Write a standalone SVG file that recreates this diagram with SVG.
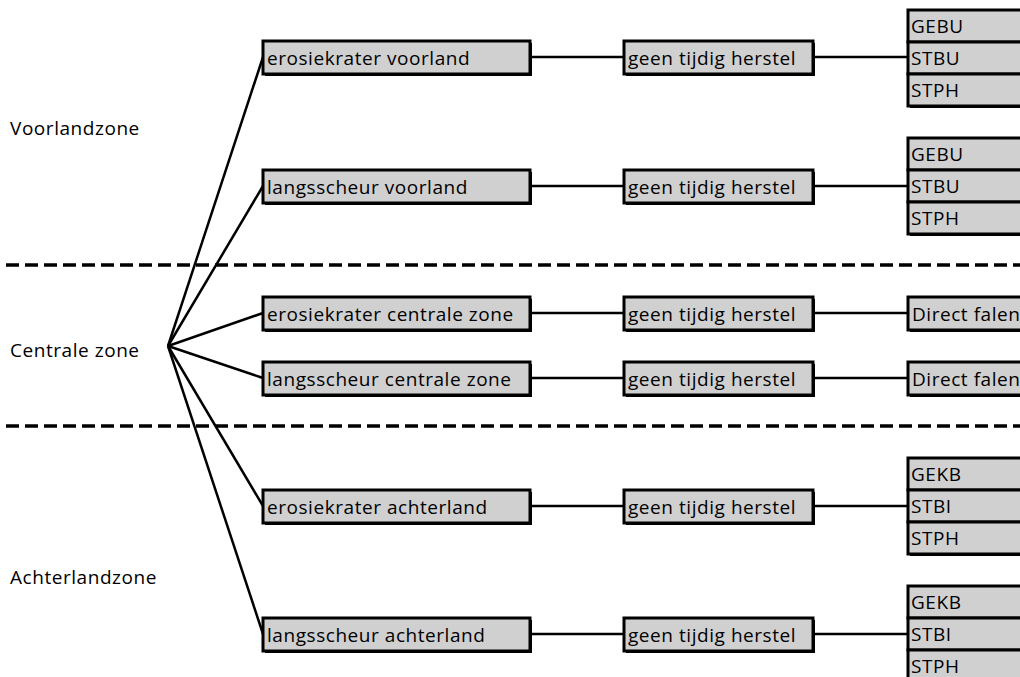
<svg xmlns="http://www.w3.org/2000/svg" width="1020" height="677" viewBox="0 0 1020 677">
<style>
.bx{fill:#d0d0d0;stroke:#000;stroke-width:3}
.sh{fill:#000}
.t{font-family:"Open Sans","Noto Sans",sans-serif;font-size:19px;letter-spacing:0.55px;fill:#000}
.z{font-family:"Open Sans","Noto Sans",sans-serif;font-size:19px;letter-spacing:0.55px;fill:#000}
.ln{stroke:#000;stroke-width:2.5;fill:none}
.ds{stroke:#000;stroke-width:3.5;stroke-dasharray:13 6;fill:none}
</style>
<rect width="1020" height="677" fill="#fff"/>
<g id="zones">
<text class="z" x="10" y="135">Voorlandzone</text>
<text class="z" x="10" y="357">Centrale zone</text>
<text class="z" x="10" y="584">Achterlandzone</text>
</g>
<g id="separators">
<line class="ds" x1="6" y1="265" x2="1020" y2="265"/>
<line class="ds" x1="6" y1="426" x2="1020" y2="426"/>
</g>
<g id="connectors">
<line class="ln" x1="168" y1="346" x2="263" y2="57"/>
<line class="ln" x1="168" y1="346" x2="263" y2="186"/>
<line class="ln" x1="168" y1="346" x2="263" y2="313"/>
<line class="ln" x1="168" y1="346" x2="263" y2="378"/>
<line class="ln" x1="168" y1="346" x2="263" y2="506"/>
<line class="ln" x1="168" y1="346" x2="263" y2="634"/>
<line class="ln" x1="530" y1="57" x2="624" y2="57"/>
<line class="ln" x1="813" y1="57" x2="908" y2="57"/>
<line class="ln" x1="530" y1="186" x2="624" y2="186"/>
<line class="ln" x1="813" y1="186" x2="908" y2="186"/>
<line class="ln" x1="530" y1="313" x2="624" y2="313"/>
<line class="ln" x1="813" y1="313" x2="908" y2="313"/>
<line class="ln" x1="530" y1="378" x2="624" y2="378"/>
<line class="ln" x1="813" y1="378" x2="908" y2="378"/>
<line class="ln" x1="530" y1="506" x2="624" y2="506"/>
<line class="ln" x1="813" y1="506" x2="908" y2="506"/>
<line class="ln" x1="530" y1="634" x2="624" y2="634"/>
<line class="ln" x1="813" y1="634" x2="908" y2="634"/>
</g>
<g id="n1"><rect class="sh" x="265" y="43" width="267" height="33"/><rect class="bx" x="263" y="41" width="267" height="33"/><text class="t" x="267" y="65">erosiekrater voorland</text></g>
<g id="n2"><rect class="sh" x="265" y="172" width="267" height="33"/><rect class="bx" x="263" y="170" width="267" height="33"/><text class="t" x="267" y="194">langsscheur voorland</text></g>
<g id="n3"><rect class="sh" x="265" y="299" width="267" height="33"/><rect class="bx" x="263" y="297" width="267" height="33"/><text class="t" x="267" y="321">erosiekrater centrale zone</text></g>
<g id="n4"><rect class="sh" x="265" y="364" width="267" height="33"/><rect class="bx" x="263" y="362" width="267" height="33"/><text class="t" x="267" y="386">langsscheur centrale zone</text></g>
<g id="n5"><rect class="sh" x="265" y="492" width="267" height="33"/><rect class="bx" x="263" y="490" width="267" height="33"/><text class="t" x="267" y="514">erosiekrater achterland</text></g>
<g id="n6"><rect class="sh" x="265" y="620" width="267" height="33"/><rect class="bx" x="263" y="618" width="267" height="33"/><text class="t" x="267" y="642">langsscheur achterland</text></g>
<g id="h1"><rect class="sh" x="626" y="43" width="189" height="33"/><rect class="bx" x="624" y="41" width="189" height="33"/><text class="t" x="628" y="65">geen tijdig herstel</text></g>
<g id="h2"><rect class="sh" x="626" y="172" width="189" height="33"/><rect class="bx" x="624" y="170" width="189" height="33"/><text class="t" x="628" y="194">geen tijdig herstel</text></g>
<g id="h3"><rect class="sh" x="626" y="299" width="189" height="33"/><rect class="bx" x="624" y="297" width="189" height="33"/><text class="t" x="628" y="321">geen tijdig herstel</text></g>
<g id="h4"><rect class="sh" x="626" y="364" width="189" height="33"/><rect class="bx" x="624" y="362" width="189" height="33"/><text class="t" x="628" y="386">geen tijdig herstel</text></g>
<g id="h5"><rect class="sh" x="626" y="492" width="189" height="33"/><rect class="bx" x="624" y="490" width="189" height="33"/><text class="t" x="628" y="514">geen tijdig herstel</text></g>
<g id="h6"><rect class="sh" x="626" y="620" width="189" height="33"/><rect class="bx" x="624" y="618" width="189" height="33"/><text class="t" x="628" y="642">geen tijdig herstel</text></g>
<g id="r1">
<rect class="sh" x="910" y="12" width="130" height="96"/>
<rect class="bx" x="908" y="10" width="130" height="32"/><text class="t" x="911" y="33">GEBU</text>
<rect class="bx" x="908" y="42" width="130" height="32"/><text class="t" x="911" y="65">STBU</text>
<rect class="bx" x="908" y="74" width="130" height="32"/><text class="t" x="911" y="97">STPH</text>
</g>
<g id="r2">
<rect class="sh" x="910" y="140" width="130" height="96"/>
<rect class="bx" x="908" y="138" width="130" height="32"/><text class="t" x="911" y="161">GEBU</text>
<rect class="bx" x="908" y="170" width="130" height="32"/><text class="t" x="911" y="193">STBU</text>
<rect class="bx" x="908" y="202" width="130" height="32"/><text class="t" x="911" y="225">STPH</text>
</g>
<g id="r3"><rect class="sh" x="910" y="299" width="130" height="33"/><rect class="bx" x="908" y="297" width="130" height="33"/><text class="t" x="912" y="321">Direct falen</text></g>
<g id="r4"><rect class="sh" x="910" y="364" width="130" height="33"/><rect class="bx" x="908" y="362" width="130" height="33"/><text class="t" x="912" y="386">Direct falen</text></g>
<g id="r5">
<rect class="sh" x="910" y="460" width="130" height="96"/>
<rect class="bx" x="908" y="458" width="130" height="32"/><text class="t" x="911" y="481">GEKB</text>
<rect class="bx" x="908" y="490" width="130" height="32"/><text class="t" x="911" y="513">STBI</text>
<rect class="bx" x="908" y="522" width="130" height="32"/><text class="t" x="911" y="545">STPH</text>
</g>
<g id="r6">
<rect class="sh" x="910" y="588" width="130" height="96"/>
<rect class="bx" x="908" y="586" width="130" height="32"/><text class="t" x="911" y="609">GEKB</text>
<rect class="bx" x="908" y="618" width="130" height="32"/><text class="t" x="911" y="641">STBI</text>
<rect class="bx" x="908" y="650" width="130" height="32"/><text class="t" x="911" y="673">STPH</text>
</g>
</svg>
